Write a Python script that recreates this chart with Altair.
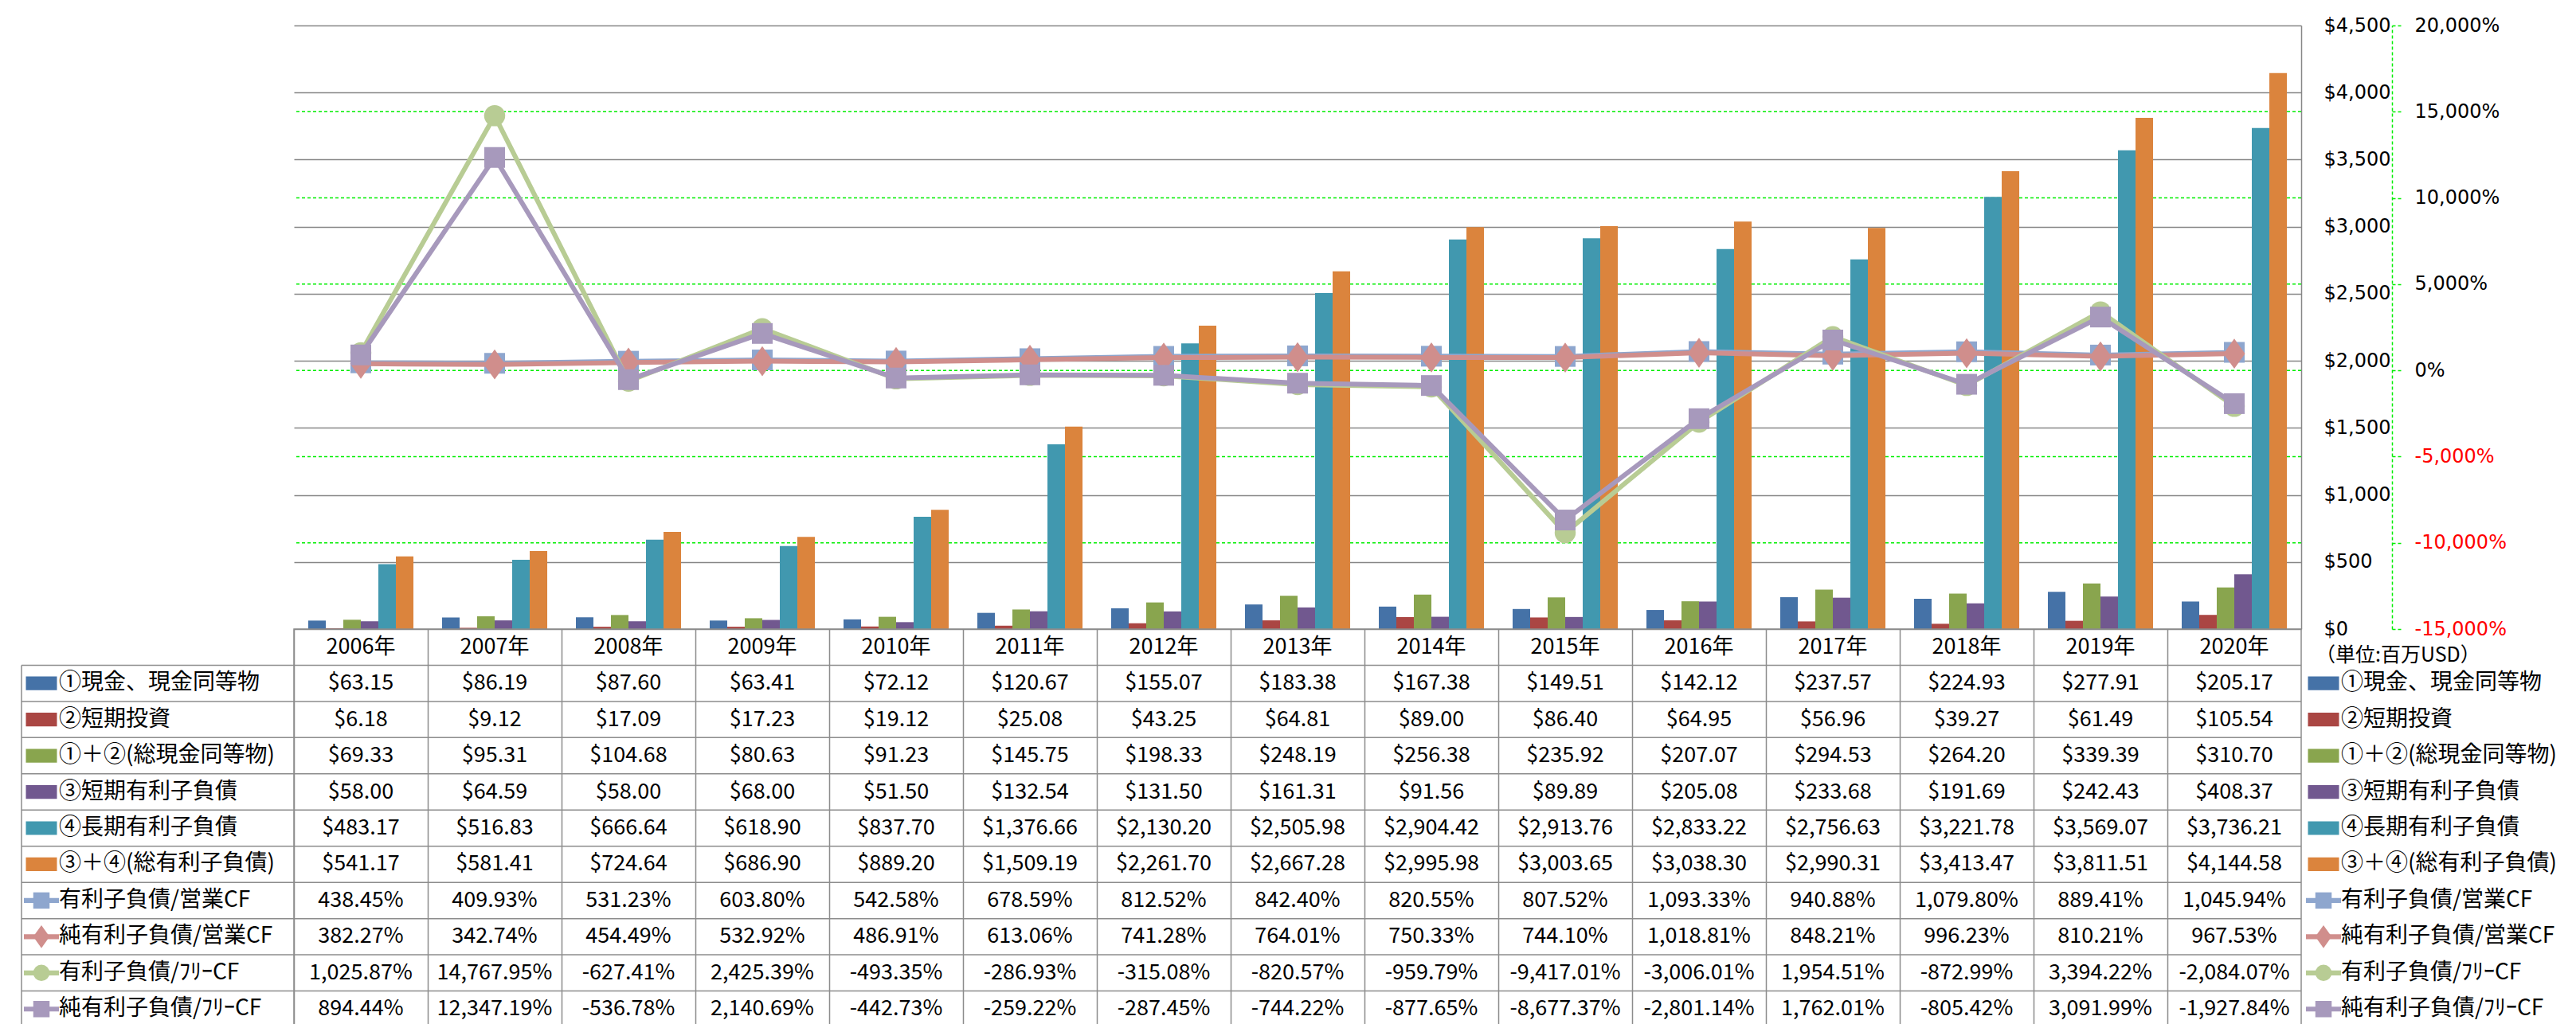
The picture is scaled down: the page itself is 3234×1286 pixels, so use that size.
import altair as alt
import pandas as pd

FONT = "Noto Sans CJK JP"
AXIS_FONT = "DejaVu Sans"

years = ["2006年", "2007年", "2008年", "2009年", "2010年", "2011年", "2012年",
         "2013年", "2014年", "2015年", "2016年", "2017年", "2018年", "2019年", "2020年"]

bar_names = ["①現金、現金同等物", "②短期投資", "①＋②(総現金同等物)",
             "③短期有利子負債", "④長期有利子負債", "③＋④(総有利子負債)"]
bar_colors = ["#4572A7", "#AA4643", "#89A54E", "#71588F", "#4198AF", "#DB843D"]

cash = [63.15, 86.19, 87.60, 63.41, 72.12, 120.67, 155.07, 183.38, 167.38, 149.51,
        142.12, 237.57, 224.93, 277.91, 205.17]
short_inv = [6.18, 9.12, 17.09, 17.23, 19.12, 25.08, 43.25, 64.81, 89.00, 86.40,
             64.95, 56.96, 39.27, 61.49, 105.54]
total_cash = [69.33, 95.31, 104.68, 80.63, 91.23, 145.75, 198.33, 248.19, 256.38, 235.92,
              207.07, 294.53, 264.20, 339.39, 310.70]
short_debt = [58.00, 64.59, 58.00, 68.00, 51.50, 132.54, 131.50, 161.31, 91.56, 89.89,
              205.08, 233.68, 191.69, 242.43, 408.37]
long_debt = [483.17, 516.83, 666.64, 618.90, 837.70, 1376.66, 2130.20, 2505.98, 2904.42,
             2913.76, 2833.22, 2756.63, 3221.78, 3569.07, 3736.21]
total_debt = [541.17, 581.41, 724.64, 686.90, 889.20, 1509.19, 2261.70, 2667.28, 2995.98,
              3003.65, 3038.30, 2990.31, 3413.47, 3811.51, 4144.58]
bar_values = [cash, short_inv, total_cash, short_debt, long_debt, total_debt]

line_names = ["有利子負債/営業CF", "純有利子負債/営業CF", "有利子負債/ﾌﾘｰCF", "純有利子負債/ﾌﾘｰCF"]
line_colors = ["#8EA6CE", "#D08E8C", "#B8CC94", "#A799BC"]

debt_ocf = [438.45, 409.93, 531.23, 603.80, 542.58, 678.59, 812.52, 842.40, 820.55, 807.52,
            1093.33, 940.88, 1079.80, 889.41, 1045.94]
net_debt_ocf = [382.27, 342.74, 454.49, 532.92, 486.91, 613.06, 741.28, 764.01, 750.33, 744.10,
                1018.81, 848.21, 996.23, 810.21, 967.53]
debt_fcf = [1025.87, 14767.95, -627.41, 2425.39, -493.35, -286.93, -315.08, -820.57, -959.79,
            -9417.01, -3006.01, 1954.51, -872.99, 3394.22, -2084.07]
net_debt_fcf = [894.44, 12347.19, -536.78, 2140.69, -442.73, -259.22, -287.45, -744.22, -877.65,
                -8677.37, -2801.14, 1762.01, -805.42, 3091.99, -1927.84]
line_values = [debt_ocf, net_debt_ocf, debt_fcf, net_debt_fcf]

primary_ticks = [0, 500, 1000, 1500, 2000, 2500, 3000, 3500, 4000, 4500]
secondary_ticks = [-15000, -10000, -5000, 0, 5000, 10000, 15000, 20000]
unit_label = "（単位:百万USD）"

TALL_DIAMOND = "M0,-1.4L1,0L0,1.4L-1,0Z"
RECT_SWATCH = "M-1,-0.44H1V0.44H-1Z"
LINE_SWATCH = "M-1,-0.14H1V0.14H-1Z"
line_shapes = ["square", TALL_DIAMOND, "circle", "square"]
line_sizes = [676, 729, 700, 676]

W = 2520
H_TOP = 758
H_TABLE = 500
GRAY = "#8c8c8c"
GREEN = "#00ee00"

# ---------------- top chart ----------------
x_top = alt.X("year:N", sort=years,
              scale=alt.Scale(type="band", domain=years, paddingInner=0.214, paddingOuter=0.107),
              axis=None)

bar_df = pd.DataFrame([{"year": y, "series": n, "value": v}
                       for n, vals in zip(bar_names, bar_values)
                       for y, v in zip(years, vals)])

bars = alt.Chart(bar_df).mark_bar().encode(
    x=x_top,
    xOffset=alt.XOffset("series:N", sort=bar_names,
                        scale=alt.Scale(domain=bar_names, paddingInner=0, paddingOuter=0)),
    y=alt.Y("value:Q",
            scale=alt.Scale(domain=[0, 4500], nice=False),
            axis=alt.Axis(orient="right", values=primary_ticks, format="$,.0f",
                          grid=True, gridColor="#868686", gridWidth=1.5,
                          domain=True, domainColor="#868686", domainWidth=1.5,
                          ticks=False, tickSize=0, labelPadding=28,
                          labelFont=AXIS_FONT, labelFontSize=24, labelColor="#000000",
                          title=None)),
    color=alt.Color("series:N", scale=alt.Scale(domain=bar_names, range=bar_colors), legend=None),
)

sec_scale = alt.Scale(domain=[-15000, 20000], nice=False, zero=False)
sec_axis = alt.Axis(orient="right", offset=114, values=secondary_ticks,
                    labelExpr="(datum.value < 0 ? '-' : '') + format(abs(datum.value), ',') + '%'",
                    labelColor={"condition": {"test": "datum.value < 0", "value": "#ff0000"},
                                "value": "#000000"},
                    labelFont=AXIS_FONT, labelFontSize=24, labelPadding=17,
                    grid=False,
                    domain=True, domainColor=GREEN, domainDash=[4, 3], domainWidth=1.5,
                    ticks=True, tickColor=GREEN, tickDash=[4, 3], tickSize=11, tickWidth=1.5,
                    title=None)

# secondary grid lines (inner ticks only; the ends coincide with the frame lines)
sec_grid = alt.Chart(pd.DataFrame({"v": secondary_ticks[1:-1]})).mark_rule(
    color=GREEN, strokeDash=[4, 3], strokeWidth=1.5).encode(
    y=alt.Y("v:Q", scale=sec_scale, axis=None))

line_layers = []
for name, vals, color, shape, size in zip(line_names, line_values, line_colors, line_shapes, line_sizes):
    df = pd.DataFrame({"year": years, "ratio": vals, "series": name})
    y_enc = alt.Y("ratio:Q", scale=sec_scale, axis=sec_axis)
    line_layers.append(alt.Chart(df).mark_line(color=color, strokeWidth=6).encode(x=x_top, y=y_enc))
    line_layers.append(alt.Chart(df).mark_point(shape=shape, filled=True, size=size, color=color,
                                                opacity=1).encode(x=x_top, y=y_enc))

top = alt.layer(sec_grid, bars, alt.layer(*line_layers)).resolve_scale(y="independent").properties(
    width=W, height=H_TOP, view=alt.ViewBackground(stroke="transparent"))

# ---------------- table ----------------
row_domain = ["hdr"] + bar_names + line_names
all_colors = bar_colors + line_colors

rows = []
for y in years:
    rows.append({"year": y, "row": "hdr", "text": y})
for n, vals in zip(bar_names, bar_values):
    for y, v in zip(years, vals):
        rows.append({"year": y, "row": n, "text": f"${v:,.2f}"})
for n, vals in zip(line_names, line_values):
    for y, v in zip(years, vals):
        rows.append({"year": y, "row": n, "text": f"{v:,.2f}%"})
table_df = pd.DataFrame(rows)

y_scale_t = alt.Scale(type="band", domain=row_domain, paddingInner=0, paddingOuter=0)
y_t = alt.Y("row:N", scale=y_scale_t, axis=None)
x_t = alt.X("year:N", scale=alt.Scale(type="band", domain=years, paddingInner=0, paddingOuter=0),
            axis=alt.Axis(grid=True, bandPosition=0, gridColor=GRAY, gridWidth=1.5,
                          labels=False, ticks=False, domain=False, title=None))

cells = alt.Chart(table_df).mark_text(font=FONT, fontSize=27, color="#000000").encode(
    x=x_t, y=y_t, text="text:N")

data_rows = pd.DataFrame({"row": bar_names + line_names})
bar_rows = pd.DataFrame({"row": bar_names})
ln_rows = pd.DataFrame({"row": line_names})
first_row = pd.DataFrame({"row": [bar_names[0]]})
one = pd.DataFrame({"k": [0]})

row_rules = alt.Chart(data_rows).mark_rule(color=GRAY, strokeWidth=1.5).encode(
    y=alt.Y("row:N", scale=y_scale_t, bandPosition=0, axis=None),
    x=alt.value(-342), x2=alt.value("width"))
bottom_rule = alt.Chart(one).mark_rule(color=GRAY, strokeWidth=1.5).encode(
    y=alt.value("height"), x=alt.value(-342), x2=alt.value(0))
left_rule = alt.Chart(first_row).mark_rule(color=GRAY, strokeWidth=1.5).encode(
    y=alt.Y("row:N", scale=y_scale_t, bandPosition=0, axis=None),
    y2=alt.value("height"), x=alt.value(-342))

color_t = alt.Color("row:N", scale=alt.Scale(domain=bar_names + line_names, range=all_colors), legend=None)
shape_t = alt.Shape("row:N", scale=alt.Scale(domain=line_names, range=line_shapes), legend=None)

label_layers = []
for sx, tx in [(-317, -295), (2548, 2570)]:
    label_layers.append(alt.Chart(data_rows).mark_text(font=FONT, fontSize=28, align="left",
                                                        baseline="middle", color="#000000").encode(
        y=y_t, x=alt.value(tx), text="row:N"))
    label_layers.append(alt.Chart(bar_rows).mark_point(shape=RECT_SWATCH, filled=True, size=1521,
                                                       opacity=1).encode(
        y=y_t, x=alt.value(sx), color=color_t))
    label_layers.append(alt.Chart(ln_rows).mark_point(shape=LINE_SWATCH, filled=True, size=1936,
                                                      opacity=1).encode(
        y=y_t, x=alt.value(sx), color=color_t))
    label_layers.append(alt.Chart(ln_rows).mark_point(filled=True, size=420, opacity=1).encode(
        y=y_t, x=alt.value(sx), color=color_t, shape=shape_t))

unit_text = alt.Chart(pd.DataFrame({"t": [unit_label]})).mark_text(
    font=FONT, fontSize=25, align="left", baseline="middle", color="#000000").encode(
    x=alt.value(2538), y=alt.value(33), text="t:N")

table = alt.layer(cells, row_rules, bottom_rule, left_rule, *label_layers, unit_text).properties(
    width=W, height=H_TABLE, view=alt.ViewBackground(stroke=GRAY, strokeWidth=1.5))

chart = alt.vconcat(top, table, spacing=0, bounds="flush").resolve_scale(
    x="independent", y="independent", color="independent", shape="independent"
).properties(
    padding={"left": 17, "top": 11, "right": 0, "bottom": 0},
    background="#ffffff",
).configure(font=FONT)

chart.save("out.html", embed_options={"renderer": "svg", "actions": False})
